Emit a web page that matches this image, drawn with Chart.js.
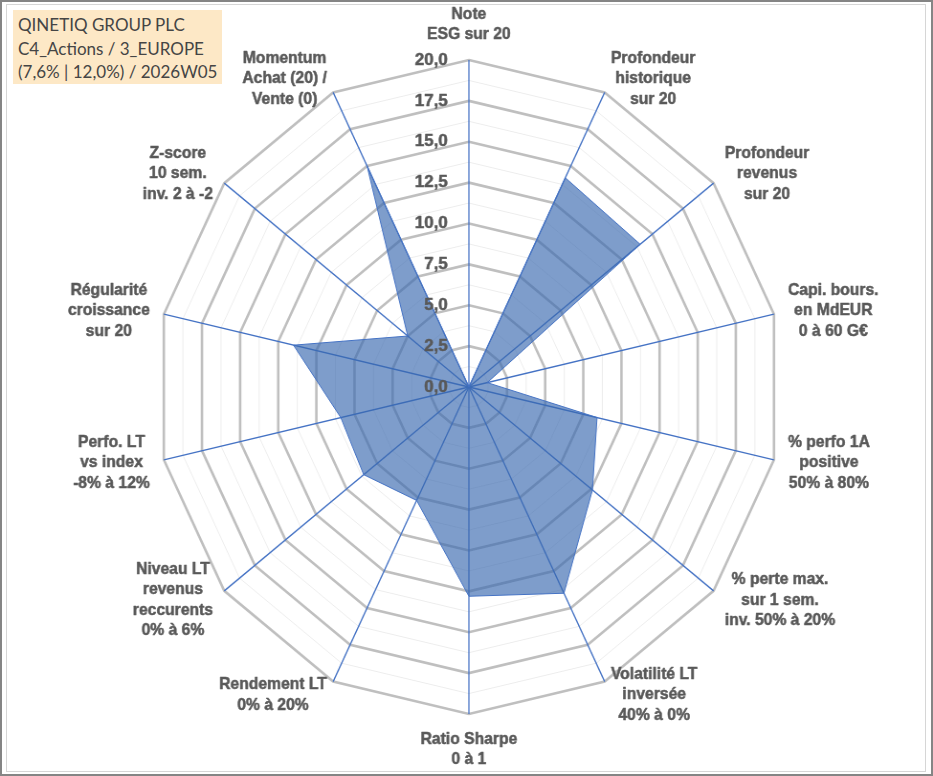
<!DOCTYPE html>
<html lang="fr">
<head>
<meta charset="utf-8">
<title>QINETIQ GROUP PLC – radar</title>
<script src="https://cdn.jsdelivr.net/npm/chart.js@4.4.1/dist/chart.umd.min.js"></script>
<style>
  html, body { margin: 0; padding: 0; background: #fff; }
  #frame {
    position: absolute; left: 0; top: 0; width: 933px; height: 776px;
    box-sizing: border-box; border: 2px solid #858585; overflow: hidden;
  }
  #inner {
    position: absolute; left: 4px; top: 2px; width: 918px; height: 766px;
    border: 1px solid #d6d6d6;
  }
  /* the reference plot is slightly narrower than tall: draw a circle, squeeze it */
  #wrap {
    position: absolute; left: -2px; top: -2px; width: 975px; height: 776px;
    transform: scaleX(0.95692); transform-origin: 0 0;
  }
  #title {
    position: absolute; left: 11px; top: 8px; width: 204px; height: 71px;
    padding: 3px 0 0 5px; background: #fde8c6;
    font: 17px Lato, "Open Sans", sans-serif; line-height: 23.5px; color: #454545;
    white-space: nowrap;
  }
</style>
</head>
<body>
<div id="frame">
  <div id="inner"></div>
  <div id="wrap"><canvas id="radar"></canvas></div>
  <div id="title">QINETIQ GROUP PLC<br>C4_Actions / 3_EUROPE<br>(7,6% | 12,0%) / 2026W05</div>
</div>
<script>
(function () {
  'use strict';

  // axes, clockwise from the top
  const CATEGORIES = [
    ['Note', 'ESG sur 20'],
    ['Profondeur', 'historique', 'sur 20'],
    ['Profondeur', 'revenus', 'sur 20'],
    ['Capi. bours.', 'en MdEUR', '0 à 60 G€'],
    ['% perfo 1A', 'positive', '50% à 80%'],
    ['% perte max.', 'sur 1 sem.', 'inv. 50% à 20%'],
    ['Volatilité LT', 'inversée', '40% à 0%'],
    ['Ratio Sharpe', '0 à 1'],
    ['Rendement LT', '0% à 20%'],
    ['Niveau LT', 'revenus', 'reccurents', '0% à 6%'],
    ['Perfo. LT', 'vs index', '-8% à 12%'],
    ['Régularité', 'croissance', 'sur 20'],
    ['Z-score', '10 sem.', 'inv. 2 à -2'],
    ['Momentum', 'Achat (20) /', 'Vente (0)'],
  ];
  const SCORES = [0, 14.2, 14.0, 1.2, 8.4, 10.1, 14.0, 12.8, 7.7, 8.6, 8.4, 11.5, 5.0, 15.0];
  const TICK_LABELS = ['0,0', '2,5', '5,0', '7,5', '10,0', '12,5', '15,0', '17,5', '20,0'];

  const SX = 0.95692;          // must match the css scaleX on #wrap
  const LABEL_GAP = 15;
  const LINE_H = 20.5;
  const INK = '#595959';
  const LABEL_FONT = 'bold 15.7px "Liberation Sans", Arial, sans-serif';
  const TICK_FONT = 'bold 17px "Liberation Sans", Arial, sans-serif';

  // text drawn un-squeezed so glyphs keep their normal width on screen;
  // a hairline stroke gives the heavier look of the original rendering
  function put(ctx, text, x, y) {
    ctx.save();
    ctx.translate(x, y);
    ctx.scale(1 / SX, 1);
    ctx.fillText(text, 0, 0);
    ctx.strokeText(text, 0, 0);
    ctx.restore();
  }

  const excelLabels = {
    id: 'excelLabels',
    afterDatasetsDraw(chart) {
      const r = chart.scales.r;
      const ctx = chart.ctx;
      ctx.save();
      ctx.fillStyle = INK;
      ctx.strokeStyle = INK;
      ctx.lineWidth = 0.5;
      ctx.lineJoin = 'round';
      ctx.textBaseline = 'middle';

      // value ticks, right-aligned just left of the vertical axis
      ctx.font = TICK_FONT;
      ctx.textAlign = 'right';
      r.ticks.forEach((t, i) => {
        if (i % 2) return;
        const y = r.yCenter - r.getDistanceFromCenterForValue(t.value);
        put(ctx, TICK_LABELS[i / 2], r.xCenter - 22, y);
      });

      // axis names, centred lines, box pushed outward from the axis end
      ctx.font = LABEL_FONT;
      ctx.textAlign = 'center';
      CATEGORIES.forEach((lines, i) => {
        const a = r.getIndexAngle(i);
        const s = Math.sin(a), c = Math.cos(a);
        const p = r.getPointPosition(i, r.drawingArea + LABEL_GAP);
        const w = Math.max(...lines.map((l) => ctx.measureText(l).width)) / SX;
        const h = lines.length * LINE_H;
        let cx = p.x, cy = p.y;
        if (Math.abs(s) < 0.01) cy = p.y - c * h / 2;
        else cx = p.x + Math.sign(s) * w / 2;
        lines.forEach((l, k) => put(ctx, l, cx, cy - h / 2 + LINE_H * (k + 0.5)));
      });
      ctx.restore();
    },
  };

  new Chart(document.getElementById('radar').getContext('2d'), {
    type: 'radar',
    data: {
      labels: CATEGORIES,
      datasets: [{
        label: 'QINETIQ GROUP PLC',
        data: SCORES,
        fill: true,
        backgroundColor: 'rgba(57, 105, 175, 0.65)',
        borderColor: '#4472c4',
        borderWidth: 1,
        pointRadius: 0,
        pointHoverRadius: 0,
      }],
    },
    options: {
      responsive: true, maintainAspectRatio: false, animation: false,
      layout: { padding: { top: 60, bottom: 62, left: 6, right: 0 } },
      plugins: { legend: { display: false }, tooltip: { enabled: false } },
      scales: {
        r: {
          min: 0, max: 20,
          ticks: { stepSize: 1.25, display: false },
          grid: {
            color: (ctx) => ctx.index % 2 ? '#ededed' : '#bfbfbf',
            lineWidth: (ctx) => ctx.index % 2 ? 1 : 2.6,
          },
          angleLines: { color: '#4472c4', lineWidth: 1.3 },
          pointLabels: { display: false },
        },
      },
    },
    plugins: [excelLabels],
  });
})();
</script>
</body>
</html>
